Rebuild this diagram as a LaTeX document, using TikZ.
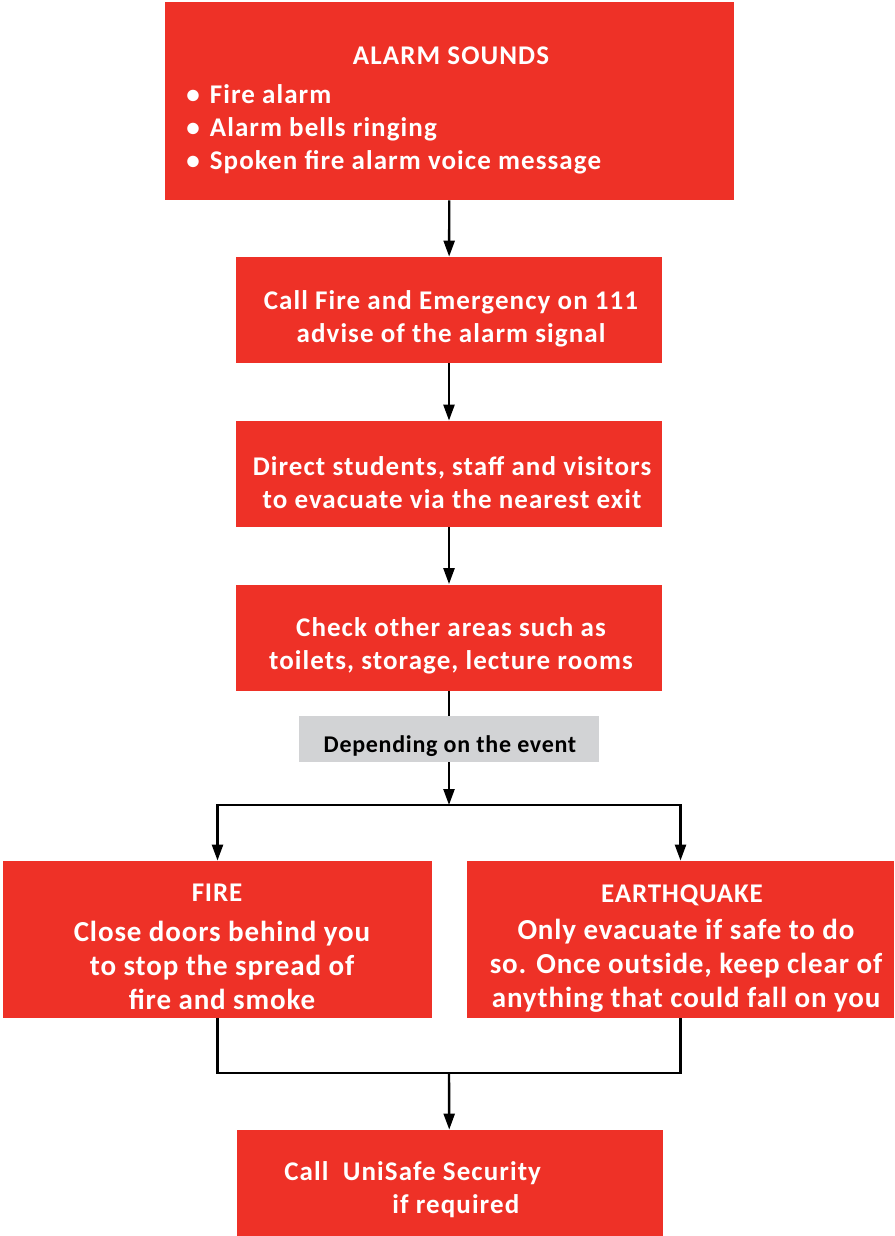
\documentclass[tikz,border=0pt]{standalone}
\usepackage{fontspec}
\setmainfont{Carlito}
\usetikzlibrary{arrows.meta,positioning,calc}
\definecolor{alarmred}{RGB}{238,49,39}
\definecolor{eventgray}{RGB}{210,211,213}
\tikzset{
  stepbox/.style={fill=alarmred, draw=none, inner sep=0pt},
  midbox/.style={stepbox, minimum width=213pt, minimum height=53pt},
  eventbox/.style={stepbox, minimum width=214.5pt, minimum height=78.5pt},
  choicebox/.style={fill=eventgray, inner sep=0pt, minimum width=150pt, minimum height=23pt},
  steptext/.style={text=white, inner sep=0pt, align=center, font=\bfseries\fontsize{13.5}{16.5}\selectfont\addfontfeature{LetterSpace=4}},
  eventtext/.style={text=white, inner sep=0pt, align=center, font=\bfseries\fontsize{14.5}{17}\selectfont\addfontfeature{LetterSpace=3}},
  eventtitle/.style={text=white, inner sep=0pt, font=\bfseries\fontsize{13.5}{14}\selectfont\addfontfeature{LetterSpace=3}},
  flow/.style={-{Triangle[length=8pt,width=5.5pt]}, line width=1.2pt, black},
  link/.style={line width=1.2pt, black}
}

\begin{document}
\begin{tikzpicture}[x=0.5pt,y=-0.5pt]
  \useasboundingbox (0,0) rectangle (894,1236);
  % boxes
  \node[stepbox, minimum width=284.5pt, minimum height=99pt] (alarm) at (449.5,101) {};
  \node[midbox] (call) at (449,310) {};
  \node[midbox] (direct) at (449,474) {};
  \node[midbox] (check) at (449,637.5) {};
  \node[choicebox] (choice) at (449,739) {};
  \node[eventbox] (fire) at (217.5,939.5) {};
  \node[eventbox, minimum width=213.5pt] (quake) at (680.5,939.5) {};
  \node[midbox] (unisafe) at (449.5,1183) {};
  % texts
  \node[steptext] (alarmtitle) at (451,56) {ALARM SOUNDS};
  \node[steptext, align=left, anchor=west] (alarmlist) at (186,129)
    {\textbullet\hspace{5pt}Fire alarm\\
     \textbullet\hspace{5pt}Alarm bells ringing\\
     \textbullet\hspace{5pt}Spoken fire alarm voice message};
  \node[steptext] (calltext) at (451,318.5) {Call Fire and Emergency on 111\\advise of the alarm signal};
  \node[steptext] (directtext) at (452,482.5) {Direct students, staff and visitors\\to evacuate via the nearest exit};
  \node[steptext] (checktext) at (451,645.5) {Check other areas such as\\toilets, storage, lecture rooms};
  \node[font=\bfseries\fontsize{12}{12}\selectfont\addfontfeature{LetterSpace=3}, inner sep=0pt] (choicetext) at (450,746) {Depending on the event};
  \node[eventtitle] (firetitle) at (217,893) {FIRE};
  \node[eventtext] (firetext) at (222,965) {Close doors behind you\\to stop the spread of\\fire and smoke};
  \node[eventtitle] (quaketitle) at (682,895) {EARTHQUAKE};
  \node[eventtext] (quaketext) at (686,965.5) {Only evacuate if safe to do\\so. Once outside, keep clear of\\anything that could fall on you};
  \node[steptext, align=left, anchor=west] (unisafetext) at (284,1190)
    {Call~~UniSafe Security\\\hspace{54pt}if required};
  % connectors
  \coordinate (split) at (449,805);
  \coordinate (merge) at (449,1073);
  \draw[flow] (alarm) -- (call);
  \draw[flow] (call) -- (direct);
  \draw[flow] (direct) -- (check);
  \draw[link] (check) -- (choice);
  \draw[flow] (choice) -- (split);
  \draw[flow] (split) -| (fire.north);
  \draw[flow] (split) -| (quake.north);
  \draw[link] (fire.south) |- (merge) -| (quake.south);
  \draw[flow] (merge) -- (unisafe);
\end{tikzpicture}
\end{document}
